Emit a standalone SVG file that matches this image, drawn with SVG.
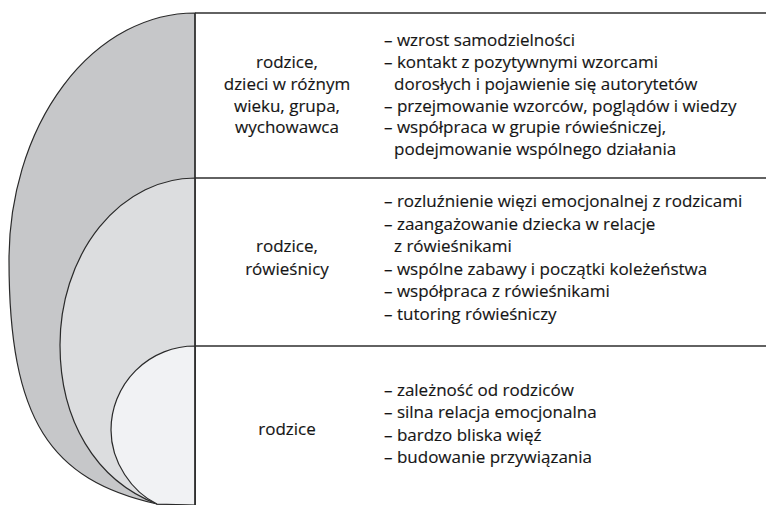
<svg xmlns="http://www.w3.org/2000/svg" width="766" height="505" viewBox="0 0 766 505">
<style>
.shape{stroke:#2a2a2a;stroke-width:1.2}
.rule{stroke:#2e2e2e;stroke-width:1.4;fill:none}
text{font-family:"Open Sans","Noto Sans","Liberation Sans",sans-serif;font-size:17px;fill:#151515;stroke:#151515;stroke-width:0.15}
.lbl{text-anchor:middle}
</style>
<rect width="766" height="505" fill="#fff"/>
<g id="outer">
<path class="shape" fill="#c6c7c9" d="M195,13 A186,247 0 0 0 9,260 C9,420 50,480 157,504 L195,505 L195,13 Z"/>
</g>
<g id="middle">
<path class="shape" fill="#dcdddf" d="M195,178 A135,167 0 0 0 60,345 C60,420 95,480 157,504 L195,505 L195,178 Z"/>
</g>
<g id="inner">
<path class="shape" fill="#f1f2f4" d="M195,346 A84,84 0 0 0 111,430 C111,462 132,492 157,504 L195,505 L195,346 Z"/>
</g>
<g id="connectors">
<line class="rule" x1="195" y1="13" x2="195" y2="505"/>
<line class="rule" x1="195" y1="13" x2="766" y2="13"/>
<line class="rule" x1="195" y1="178" x2="766" y2="178"/>
<line class="rule" x1="195" y1="346" x2="766" y2="346"/>
</g>
<g id="row1">
<text class="lbl" x="287" y="68">rodzice,</text>
<text class="lbl" x="287" y="90">dzieci w różnym</text>
<text class="lbl" x="287" y="111.5">wieku, grupa,</text>
<text class="lbl" x="287" y="133">wychowawca</text>
<text x="384" y="46">– wzrost samodzielności</text>
<text x="384" y="68">– kontakt z pozytywnymi wzorcami</text>
<text x="394" y="90">dorosłych i pojawienie się autorytetów</text>
<text x="384" y="111.5">– przejmowanie wzorców, poglądów i wiedzy</text>
<text x="384" y="133">– współpraca w grupie rówieśniczej,</text>
<text x="394" y="155">podejmowanie wspólnego działania</text>
</g>
<g id="row2">
<text class="lbl" x="287" y="252">rodzice,</text>
<text class="lbl" x="287" y="274.5">rówieśnicy</text>
<text x="384" y="207">– rozluźnienie więzi emocjonalnej z rodzicami</text>
<text x="384" y="229.5">– zaangażowanie dziecka w relacje</text>
<text x="394" y="252">z rówieśnikami</text>
<text x="384" y="274.5">– wspólne zabawy i początki koleżeństwa</text>
<text x="384" y="297">– współpraca z rówieśnikami</text>
<text x="384" y="319.5">– tutoring rówieśniczy</text>
</g>
<g id="row3">
<text class="lbl" x="287" y="435">rodzice</text>
<text x="384" y="396">– zależność od rodziców</text>
<text x="384" y="418">– silna relacja emocjonalna</text>
<text x="384" y="441">– bardzo bliska więź</text>
<text x="384" y="463">– budowanie przywiązania</text>
</g>
</svg>
